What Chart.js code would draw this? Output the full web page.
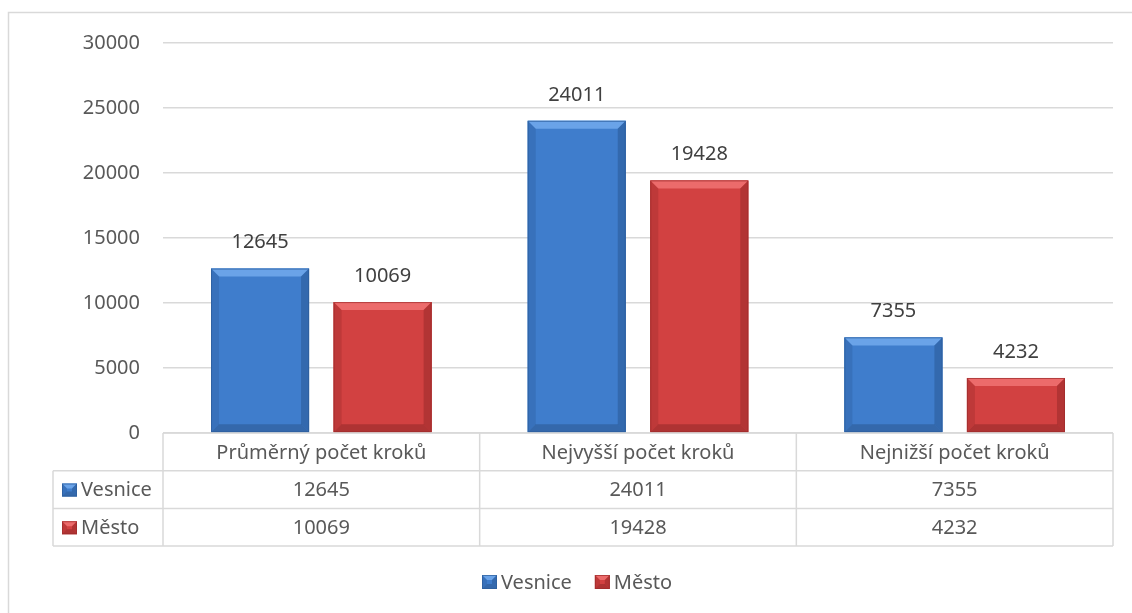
<!DOCTYPE html>
<html>
<head>
<meta charset="utf-8">
<script src="https://cdn.jsdelivr.net/npm/chart.js@4.4.1/dist/chart.umd.min.js"></script>
<style>
  html, body { margin: 0; padding: 0; background: #fff; }
  #wrap { width: 1132px; height: 613px; }
</style>
</head>
<body>
<div id="wrap"><canvas id="myChart" width="1132" height="613"></canvas></div>
<script>
const kategorie = ['Průměrný počet kroků', 'Nejvyšší počet kroků', 'Nejnižší počet kroků'];
const vesnice = [12645, 24011, 7355];
const mesto = [10069, 19428, 4232];
const nazvyRad = ['Vesnice', 'Město'];

const FONT = '"Noto Sans", sans-serif';
const VEL = 20;
const barvy = [
    { main: '#3f7dcc', light: '#6aa3e8', dark: '#2c5c9a', bottom: '#2d5a94' },
    { main: '#d24141', light: '#ec6b6b', dark: '#9c2b2b', bottom: '#962a2a' }
];

// obdelnik se zkosenymi hranami
function bevel(c, x0, y0, x1, y1, col, b) {
    c.save();
    c.fillStyle = col.main;
    c.fillRect(x0, y0, x1 - x0, y1 - y0);
    b = Math.min(b, (x1 - x0) / 2, (y1 - y0) / 2);
    c.fillStyle = col.light;
    c.beginPath();
    c.moveTo(x0, y0); c.lineTo(x1, y0); c.lineTo(x1 - b, y0 + b); c.lineTo(x0 + b, y0 + b);
    c.closePath(); c.fill();
    c.fillStyle = col.dark;
    c.globalAlpha = 0.35;
    c.beginPath();
    c.moveTo(x0, y0); c.lineTo(x0 + b, y0 + b); c.lineTo(x0 + b, y1 - b); c.lineTo(x0, y1);
    c.closePath(); c.fill();
    c.globalAlpha = 0.6;
    c.beginPath();
    c.moveTo(x1, y0); c.lineTo(x1 - b, y0 + b); c.lineTo(x1 - b, y1 - b); c.lineTo(x1, y1);
    c.closePath(); c.fill();
    c.fillStyle = col.bottom;
    c.beginPath();
    c.moveTo(x0, y1); c.lineTo(x0 + b, y1 - b); c.lineTo(x1 - b, y1 - b); c.lineTo(x1, y1);
    c.closePath(); c.fill();
    c.globalAlpha = 0.7;
    c.strokeStyle = col.dark;
    c.lineWidth = 1;
    c.strokeRect(x0 + 0.5, y0 + 0.5, x1 - x0 - 1, y1 - y0 - 1);
    c.restore();
}

const tabulka = {
    id: 'tabulka',
    afterDatasetsDraw(chart) {
        const c = chart.ctx;
        chart.data.datasets.forEach((ds, i) => {
            chart.getDatasetMeta(i).data.forEach((bar, j) => {
                const p = bar.getProps(['x', 'y', 'base', 'width'], true);
                bevel(c, p.x - p.width / 2, p.y, p.x + p.width / 2, p.base, barvy[i], 8);
                c.save();
                c.font = VEL + 'px ' + FONT;
                c.fillStyle = '#404040';
                c.textAlign = 'center';
                c.textBaseline = 'middle';
                c.fillText(ds.data[j], p.x, p.y - 26);
                c.restore();
            });
        });
    },
    afterDraw(chart) {
        const c = chart.ctx;
        const area = chart.chartArea;
        const xs = chart.scales.x;
        const n = kategorie.length;
        const cw = (area.right - area.left) / n;
        const rowH = 37.7;
        const y0 = area.bottom, y1 = y0 + rowH, y2 = y1 + rowH, y3 = y2 + rowH;
        const leftX = 53;
        c.save();
        c.strokeStyle = '#d9d9d9';
        c.lineWidth = 1.5;
        c.beginPath();
        c.moveTo(area.left, y0); c.lineTo(area.right, y0);
        [y1, y2, y3].forEach(y => { c.moveTo(leftX, y); c.lineTo(area.right, y); });
        for (let k = 0; k <= n; k++) {
            const x = area.left + k * cw;
            c.moveTo(x, y0); c.lineTo(x, y3);
        }
        c.moveTo(leftX, y1); c.lineTo(leftX, y3);
        c.stroke();
        // ramecek
        c.beginPath();
        c.moveTo(8.5, 613); c.lineTo(8.5, 12.5); c.lineTo(1132, 12.5);
        c.stroke();

        c.font = VEL + 'px ' + FONT;
        c.fillStyle = '#595959';
        c.textAlign = 'center';
        c.textBaseline = 'middle';
        kategorie.forEach((k, j) => {
            const x = xs.getPixelForValue(j);
            c.fillText(k, x, (y0 + y1) / 2 + 1);
            c.fillText(vesnice[j], x, (y1 + y2) / 2 + 1);
            c.fillText(mesto[j], x, (y2 + y3) / 2 + 1);
        });
        c.textAlign = 'left';
        [[y1, y2], [y2, y3]].forEach((r, i) => {
            const ym = (r[0] + r[1]) / 2;
            bevel(c, 62, ym - 6, 77, ym + 7, barvy[i], 5);
            c.fillStyle = '#595959';
            c.fillText(nazvyRad[i], 81, ym + 1);
        });
        // legenda
        const ly = 582;
        const w1 = c.measureText(nazvyRad[0]).width;
        let lx = 482;
        bevel(c, lx, ly - 7, lx + 15, ly + 7, barvy[0], 5);
        c.fillStyle = '#595959';
        c.fillText(nazvyRad[0], lx + 19, ly + 1);
        lx = lx + 19 + w1 + 23;
        bevel(c, lx, ly - 7, lx + 15, ly + 7, barvy[1], 5);
        c.fillStyle = '#595959';
        c.fillText(nazvyRad[1], lx + 19, ly + 1);
        c.restore();
    }
};

const ctx = document.getElementById('myChart');

new Chart(ctx, {
    type: 'bar',
    data: {
        labels: kategorie,
        datasets: [
            { label: nazvyRad[0], data: vesnice, backgroundColor: barvy[0].main, borderWidth: 0 },
            { label: nazvyRad[1], data: mesto, backgroundColor: barvy[1].main, borderWidth: 0 }
        ]
    },
    options: {
        responsive: false,
        animation: false,
        events: [],
        layout: { padding: { left: 0, right: 19, top: 43, bottom: 180 } },
        datasets: { bar: { categoryPercentage: 0.774, barPercentage: 0.8 } },
        plugins: {
            legend: { display: false },
            tooltip: { enabled: false }
        },
        scales: {
            x: { display: false },
            y: {
                min: 0,
                max: 30000,
                afterFit: (s) => { s.width = 163; },
                border: { display: false },
                grid: { color: '#d9d9d9', lineWidth: 1.5, drawTicks: false },
                ticks: {
                    stepSize: 5000,
                    color: '#595959',
                    padding: 23,
                    font: { family: FONT, size: VEL },
                    callback: (v) => String(v)
                }
            }
        }
    },
    plugins: [tabulka]
});
</script>
</body>
</html>
